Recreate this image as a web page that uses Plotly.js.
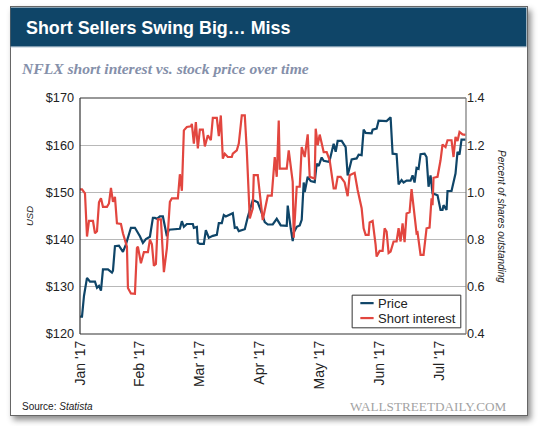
<!DOCTYPE html>
<html><head><meta charset="utf-8">
<script src="https://cdn.plot.ly/plotly-3.0.1.min.js"></script>
<style>
html,body{margin:0;padding:0;background:#fff;width:540px;height:426px;overflow:hidden}
#card{position:absolute;left:10px;top:6px;width:516px;height:408px;border:1px solid #666;background:#fff;box-shadow:3px 4px 6px rgba(0,0,0,.45)}
#chart{position:absolute;left:0;top:0;width:540px;height:426px}
</style></head><body>
<div id="card"></div><div id="chart"></div>
<script>
const titleText = "Short Sellers Swing Big… Miss";
const subtitleText = "NFLX short interest vs. stock price over time";
const tickDays = [0,30,60,90,120,150,180];
const tickLabels = ["Jan '17","Feb '17","Mar '17","Apr '17","May '17","Jun '17","Jul '17"];
const priceDays = [0,1,2,3.5,5,7.5,8.5,9.5,10.5,11.5,
 14,16,16.5,17.5,19.5,21.5,23,25.5,27.5,30,
 31.5,33,35,36.5,37.5,38.5,40,41.5,43.5,44.5,
 50,51,52,53.5,56.5,57,58.5,59,60,62,
 63,64.5,66.5,68.5,69.5,71,72,73,76.5,77.5,
 78.5,79.5,82.5,84,86.5,88,89,91,92.5,94,
 96.5,98.5,100.5,103.5,104,105.5,106.5,107,108.5,110,
 111,112,112.5,114,115.5,117.5,118.5,119.5,121,122,
 124.5,125,127,128,129,131,133,134,135,136,
 138.5,139.5,141,142,143,146,146.5,148.5,149.5,153.5,
 155.5,156.5,158.5,159.5,161,162,163.5,165.5,166.5,167.5,
 168.5,169.5,170.5,172.5,173.5,174.5,175.5,176.5,179,180.5,
 181.5,182,183.5,184,186,188,189,190,191,193];
const price = [123.7,123.7,128.1,131.9,131.1,131.1,129.8,130.2,129.2,133.7,
 133.7,133,133.4,138.6,138.7,137.4,139,142.5,142.5,140.7,
 139.3,140.1,140.6,144.6,144.6,144.4,144.9,144.9,140.7,142.1,
 142.3,143.9,142.7,143.3,143.3,142.5,142.7,139.3,139.1,139.1,
 142,140.4,140.8,141,143.5,143.5,145.2,144.9,145.6,142.5,
 142.6,141.8,142.2,144.8,148.4,148,147.9,145.6,143.7,143.2,
 143.2,144.4,143,142.9,147.2,142.4,139.7,141.5,142.7,143,
 144.2,152.1,150.1,153.3,152.4,152.2,156.1,155.6,157.4,156.7,
 156.5,156.8,160.3,158.6,160.9,160.9,159.6,153.6,155.4,157,
 157.2,158,157.9,163.3,162.6,162.5,163.3,163.5,165.2,165.1,
 165.9,158.2,158.1,151.7,152.6,152.1,152.5,152.5,153.6,152.1,
 155.2,155,158.1,158.2,157.5,151.2,153.6,149.8,149.4,146.3,
 146.3,147.3,146.3,150.3,150.3,154,158.6,158,161.2,161.2];
const shortDays = [0,1,2.5,3.5,4.5,6.5,7.5,8.5,9.5,10.5,
 11.5,13.5,14.5,15.5,16.5,17.5,18.5,20.5,21.5,23.5,
 24,25.5,27.5,28.5,29,30.5,32,34,35,36,
 37,38,39,40.5,42,43.5,45,46,49,50,
 51,52,53.5,55.5,56,57,58,59,60,61.5,
 62.5,64,65.5,66.5,68.5,69.5,70.5,71.5,72.5,74,
 76,76.5,78.5,79.5,81,82.5,83.5,85,86.5,87,
 89,91.5,94,96,97.5,98.5,99.5,100,103.5,104.5,
 106.5,107,108.5,110,111,112.5,114,115,117.5,118,
 119,120,122,123.5,125,127,128,129,130.5,132.5,
 134,135,137.5,139,141,142,143,144.5,145,146.5,
 148,148.5,150,151.5,152.5,153.5,154.5,155.5,157,158.5,
 159.5,160.5,161.5,162.5,163.5,165,166,167.5,168.5,169,
 170.5,172,173.5,175,176,176.5,177,179,180.5,181.5,
 183,184,186,187,188,189,190,191.5,193];
const shortInterest = [1.013,1.013,.996,.813,.879,.879,.827,.835,.958,.975,
 .939,.939,.953,1.019,.96,.981,.869,.866,.827,.77,
 .595,.572,.57,.764,.77,.70,.747,.747,.80,.78,
 .689,.697,.886,.886,.662,.764,.96,.975,.975,1.077,
 1.007,1.263,1.277,1.28,1.29,1.207,1.298,1.186,1.266,1.266,
 1.195,1.242,1.221,1.316,1.316,1.238,1.326,1.143,1.164,1.15,
 1.15,1.164,1.178,1.207,1.326,1.326,1.178,.89,.933,1.073,
 1.073,.883,.986,.986,1.15,1.066,1.305,1.101,1.101,1.178,
 1.045,.808,1.024,1.024,1.192,1.15,1.246,1.066,1.059,1.27,
 1.2,1.245,1.171,1.171,1.136,1.017,1.017,1.066,1.066,1.042,
 .984,1.073,1.083,1.01,.933,.848,.82,.82,.873,.879,
 .778,.728,.752,.752,.848,.834,.743,.749,.792,.792,
 .848,.792,.869,.789,.911,.916,1.014,.89,.827,.83,
 .735,.735,.848,.851,.975,.946,1.062,1.066,1.136,1.203,
 1.192,1.221,1.221,1.15,1.235,1.218,1.256,1.246,1.244];
const legendLabels = ["Price","Short interest"];

const navy="#0f4568", red="#e2463f", font="Liberation Sans, Arial, sans-serif";
const W=540,H=426,L=80,R=466.5,T=97.5,B=334.5;
const px=x=>(x-L)/(R-L), py=y=>(B-y)/(B-T);
const edge=(x0,x1,y0,y1,c)=>({type:"line",layer:"above",xref:"paper",yref:"paper",x0,x1,y0,y1,line:{color:c,width:1.2}});
const note=(text,x,y,xanchor,f,extra)=>Object.assign({text,xref:"paper",yref:"paper",x:px(x),y:py(y),xanchor,yanchor:"middle",showarrow:false,font:f,borderpad:0,borderwidth:0},extra||{});
Plotly.newPlot("chart",[
 {x:priceDays,y:price,name:legendLabels[0],type:"scatter",mode:"lines",line:{color:navy,width:2.2},yaxis:"y"},
 {x:shortDays,y:shortInterest,name:legendLabels[1],type:"scatter",mode:"lines",line:{color:red,width:2.2},yaxis:"y2"}
],{
 width:W,height:H,paper_bgcolor:"rgba(0,0,0,0)",plot_bgcolor:"rgba(0,0,0,0)",showlegend:false,
 margin:{l:L,r:W-R,t:T,b:H-B,pad:0},font:{family:font,color:"#222",size:13},
 title:{text:titleText,font:{family:font,size:17.9,color:"#fff",weight:"bold"},xref:"container",yref:"container",x:26/W,xanchor:"left",y:1-28/H,yanchor:"middle"},
 xaxis:{range:[0,193.25],tickmode:"array",tickvals:tickDays,ticktext:tickLabels,tickangle:-90,ticks:"",ticklabelstandoff:3,showgrid:false,zeroline:false,showline:false,tickfont:{size:14,color:"#222"}},
 yaxis:{range:[120,170],dtick:10,tickprefix:"$",showgrid:true,gridcolor:"#b8b8b8",gridwidth:1,zeroline:false,showline:false,ticks:"",ticklabelstandoff:5,tickfont:{size:12.7,color:"#222"},
   title:{text:"USD",font:{size:9.5,style:"italic",color:"#222"},standoff:10}},
 yaxis2:{range:[0.4,1.4],dtick:0.2,tickformat:".1f",overlaying:"y",side:"right",showgrid:false,zeroline:false,showline:false,ticks:"",tickfont:{size:12.7,color:"#222"}},
 shapes:[
  {type:"rect",layer:"below",xref:"paper",yref:"paper",x0:px(10.5),x1:px(527),y0:py(46),y1:py(6.5),fillcolor:navy,line:{width:0}},
  {type:"line",layer:"below",xref:"paper",yref:"paper",x0:px(10.5),x1:px(527),y0:py(46.3),y1:py(46.3),line:{color:"#b8c8d4",width:1}},
  edge(0,0,0,1,"#333"),edge(0,1,0,0,"#333"),edge(0,1,1,1,"#333"),edge(1,1,0,1,"#777"),
  {type:"rect",layer:"above",xref:"paper",yref:"paper",x0:px(352.5),x1:px(461.3),y0:py(328.3),y1:py(295.5),fillcolor:"#fff",line:{color:"#333",width:1}},
  {type:"line",layer:"above",xref:"paper",yref:"paper",x0:px(360.7),x1:px(374),y0:py(303.5),y1:py(303.5),line:{color:navy,width:2.2}},
  {type:"line",layer:"above",xref:"paper",yref:"paper",x0:px(360.7),x1:px(374),y0:py(318.5),y1:py(318.5),line:{color:red,width:2.2}}
 ],
 annotations:[
  note("<b><i>"+subtitleText+"</i></b>",21,68,"left",{family:"Liberation Serif, serif",size:15.6,color:"#8590aa"}),
  note("Source: <i>Statista</i>",22,407,"left",{size:10,color:"#222"}),
  note("WALLSTREETDAILY.COM",508,407,"right",{family:"Liberation Serif, serif",size:13.2,color:"#a3a3a3"}),
  note("Percent of shares outstanding",502,216.5,"center",{size:10,style:"italic",color:"#222"},{textangle:90}),
  note(legendLabels[0],378,303.5,"left",{size:13,color:"#222"}),
  note(legendLabels[1],378,318.5,"left",{size:13,color:"#222"})
 ]
},{displayModeBar:false,staticPlot:true});
</script></body></html>
